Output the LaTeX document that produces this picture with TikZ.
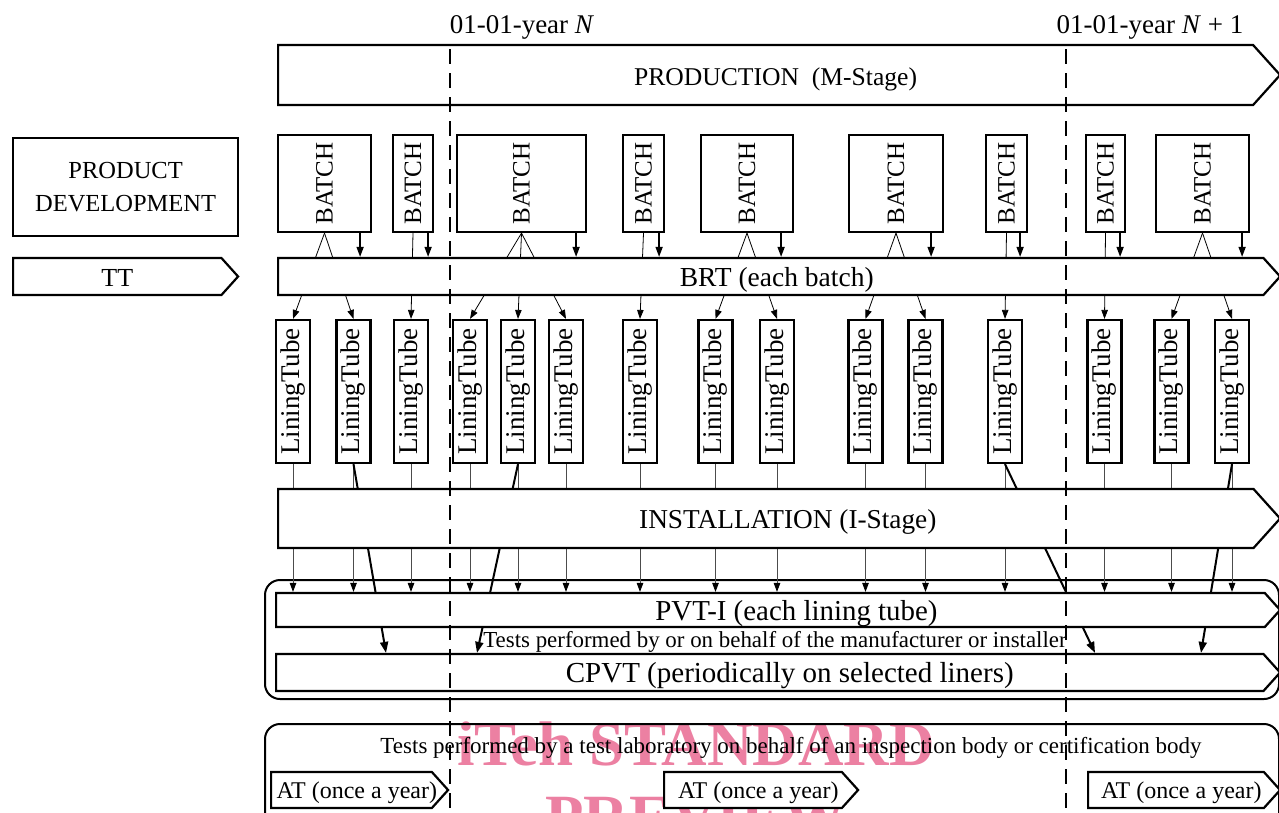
\documentclass[tikz,border=0pt]{standalone}
\usepackage{fontspec}
\setmainfont{Liberation Serif}
\usepackage{graphicx}
\usetikzlibrary{arrows.meta,shapes.symbols}
\definecolor{wmpink}{RGB}{236,128,162}
\definecolor{lightline}{gray}{0.3}
\newcommand\fsz[1]{\fontsize{#1}{#1}\selectfont}
\pgfdeclarelayer{wmlayer}
\pgfdeclarelayer{bglayer}
\pgfdeclarelayer{fglayer}
\pgfsetlayers{wmlayer,bglayer,main,fglayer}
\begin{document}
\begin{tikzpicture}[x=1pt,y=-1pt,
 box/.style={draw=black,line width=2.2pt,fill=white,inner sep=0pt},
 stage/.style={box,shape=signal,signal to=east,signal pointer angle=96,text height=25pt,text depth=5pt},
 atbox/.style={box,shape=signal,signal to=east,signal pointer angle=96,text height=21pt,text depth=5pt,minimum height=36pt,anchor=west,font=\fsz{24}},
 batchbox/.style={box,minimum height=97pt},
 tubebox/.style={box,minimum width=34pt,minimum height=143pt},
 group/.style={draw=black,line width=2pt,rounded corners=15pt,inner sep=0pt},
 thinarr/.style={draw=lightline,line width=0.9pt,-{Triangle[length=9pt,width=6.5pt,color=black]}},
 fanline/.style={draw=black,line width=0.8pt,-{Triangle[length=9pt,width=6.5pt]}},
 medarr/.style={draw=black,line width=1.5pt,-{Triangle[length=10pt,width=7pt]}},
 thickarr/.style={draw=black,line width=2pt,-{Triangle[length=11pt,width=8pt]}},
 yearline/.style={draw=black,line width=2.4pt,dash pattern=on 15pt off 9pt},
 wm/.style={text=wmpink,font=\bfseries\fsz{63},inner sep=0pt},
]
\useasboundingbox (0,0) rectangle (1279,812);

% year labels
\node[anchor=base,font=\fsz{27}] (yN) at (522,33) {01-01-year \textit{N}};
\node[anchor=base,font=\fsz{27}] (yN1) at (1150,33) {01-01-year \textit{N} + 1};

% stages
\node[stage,minimum width=1002pt,minimum height=60pt,anchor=west,font=\fsz{25.6}] (PROD) at (277,75) {\hspace*{20pt}PRODUCTION\ \ (M-Stage)};
\node[box,minimum width=225pt,minimum height=98pt,anchor=north west,align=center,font=\fsz{24.5}] (PD) at (12,137) {PRODUCT\\[8pt]DEVELOPMENT};
\node[stage,minimum width=225pt,minimum height=37pt,anchor=west,font=\fsz{26}] (TT) at (12,276.5) {TT};
\node[stage,minimum width=1002pt,minimum height=37pt,anchor=west,font=\fsz{27.5}] (BRT) at (277,276.5) {\hspace*{12pt}BRT (each batch)};

% batches
\foreach \n/\xa/\xb in {1/278/371,2/393/433,3/457/586,4/623/664,5/701/793,6/849/943,7/986/1027,8/1086/1125,9/1156/1249}{
  \node[batchbox,minimum width={(\xb-\xa)*1pt}] (B\n) at ({(\xa+\xb)/2},183.5) {\rotatebox{90}{\fsz{25}BATCH}};
}

% lining tubes
\foreach \n/\xc in {1/293,2/353.5,3/411,4/470,5/518,6/566,7/640,8/715.5,9/777,10/865.5,11/925.5,12/1005,13/1104.5,14/1171.5,15/1232}{
  \node[tubebox] (LT\n) at (\xc,391.5) {\rotatebox{90}{\fsz{27}LiningTube}};
}

\node[stage,minimum width=1002pt,minimum height=59pt,anchor=west,font=\fsz{27.3}] (INST) at (277,518.5) {\hspace*{44pt}INSTALLATION (I-Stage)};
\node[stage,minimum width=1004pt,minimum height=34pt,anchor=west,font=\fsz{28.9}] (PVT) at (275,610) {\hspace*{52pt}PVT-I (each lining tube)};
\node[font=\fsz{22.9},inner sep=0pt] (T1) at (775,642) {Tests performed by or on behalf of the manufacturer or installer};
\node[stage,minimum width=1004pt,minimum height=37pt,anchor=west,font=\fsz{29}] (CPVT) at (275,672.5) {\hspace*{40pt}CPVT (periodically on selected liners)};

\node[font=\fsz{23},inner sep=0pt] (T2) at (791,748) {Tests performed by a test laboratory on behalf of an inspection body or certification body};
\node[atbox,minimum width=177pt] (AT1) at (270,790) {\makebox[150pt][l]{AT (once a year)}};
\node[atbox,minimum width=194pt] (AT2) at (663,790) {\makebox[150pt][l]{AT (once a year)}};
\node[atbox,minimum width=192pt] (AT3) at (1087,790) {\makebox[150pt][l]{AT (once a year)}};

% watermark
\begin{pgfonlayer}{wmlayer}
\node[wm,anchor=base] (wm1) at (696,765) {iTeh STANDARD};
\node[wm,anchor=base] (wm2) at (696,838) {PREVIEW};
\end{pgfonlayer}

% groups and connectors
\begin{pgfonlayer}{bglayer}
\node[group,minimum width=1014pt,minimum height=119pt,anchor=north west] (G1) at (264,579) {};
\node[group,minimum width=1014pt,minimum height=130pt,anchor=north west] (G2) at (264,723) {};

\foreach \b/\t in {1/1,1/2,2/3,3/4,3/5,3/6,4/7,5/8,5/9,6/10,6/11,7/12,8/13,9/14,9/15}{
  \draw[fanline] (B\b.south) -- (LT\t.north);
}
\foreach \b/\o in {1/12,2/6,3/11,4/6,5/13,6/13,7/8,8/6,9/8}{
  \draw[medarr] ([xshift=-\o pt]B\b.south east) -- ([xshift=-\o pt]B\b.south east |- BRT.north);
}
\foreach \t in {1,...,15}{
  \draw[thinarr] (LT\t.south) -- (LT\t.south |- PVT.north);
}
\coordinate (k2) at (386,0 |- CPVT.north);
\coordinate (k5) at (477,0 |- CPVT.north);
\coordinate (k12) at (1095,0 |- CPVT.north);
\coordinate (k15) at (1201,0 |- CPVT.north);
\draw[thickarr] (LT2.south) -- (k2);
\draw[thickarr] (LT5.south) -- (k5);
\draw[thickarr] (LT12.south) -- (k12);
\draw[thickarr] (LT15.south) -- (k15);
\end{pgfonlayer}

% year boundaries
\begin{pgfonlayer}{fglayer}
\coordinate (dN) at (450,49);
\coordinate (dN1) at (1066,49);
\draw[yearline] (dN) -- (dN |- 0,812);
\draw[yearline] (dN1) -- (dN1 |- 0,812);
\end{pgfonlayer}
\end{tikzpicture}
\end{document}
